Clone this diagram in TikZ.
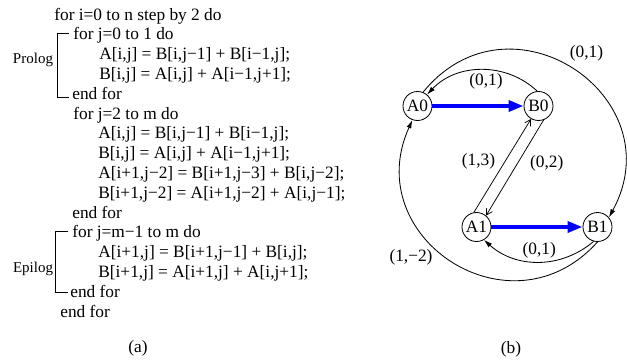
\documentclass[tikz,border=0pt]{standalone}
\usepackage{fontspec}
\setmainfont{Liberation Serif}
\usetikzlibrary{arrows.meta}

\definecolor{loopFlow}{RGB}{0,0,255}
\definecolor{loopInk}{RGB}{0,0,0}

\begin{document}
\begin{tikzpicture}[x=.6pt,y=.6pt,
      codeline/.style={font=\fontsize{10.4}{12.4}\selectfont,
        text=loopInk, anchor=base west, inner sep=0pt},
      phase/.style={font=\fontsize{9}{10.8}\selectfont,
        text=loopInk, inner sep=0pt},
      vertex/.style={circle, draw=loopInk, line width=.5pt,
        minimum size=17.4pt, inner sep=.5pt,
        font=\fontsize{10.4}{12.4}\selectfont},
      weight/.style={font=\fontsize{10.4}{12.4}\selectfont,
        text=loopInk, inner sep=0pt},
      bracket/.style={draw=loopInk, line width=.5pt},
      dep/.style={draw=loopInk, line width=.5pt,
        -{Latex[length=5pt,width=3pt]}},
      dist/.style={draw=loopInk, line width=.45pt,
        -{Straight Barb[length=3.5pt,width=4pt]}},
      flow/.style={draw=loopFlow, line width=2.4pt,
        -{Triangle[length=9pt,width=6.5pt]}}]
  \useasboundingbox (0,0) rectangle (627,360);

  % (a) the loop
  \node[codeline] (c1) at (54,340) {for i=0 to n step by 2 do};
  \node[codeline] (c2) at (73,320.2) {for j=0 to 1 do};
  \node[codeline] (c3) at (99,300.4) {A[i,j] = B[i,j−1] + B[i−1,j];};
  \node[codeline] (c4) at (99,280.6) {B[i,j] = A[i,j] + A[i−1,j+1];};
  \node[codeline] (c5) at (72,260.8) {end for};
  \node[codeline] (c6) at (73,241) {for j=2 to m do};
  \node[codeline] (c7) at (98,221.2) {A[i,j] = B[i,j−1] + B[i−1,j];};
  \node[codeline] (c8) at (98,201.4) {B[i,j] = A[i,j] + A[i−1,j+1];};
  \node[codeline] (c9) at (98,181.6) {A[i+1,j−2] = B[i+1,j−3] + B[i,j−2];};
  \node[codeline] (c10) at (98,161.8) {B[i+1,j−2] = A[i+1,j−2] + A[i,j−1];};
  \node[codeline] (c11) at (72,142) {end for};
  \node[codeline] (c12) at (72,122.2) {for j=m−1 to m do};
  \node[codeline] (c13) at (98,102.4) {A[i+1,j] = B[i+1,j−1] + B[i,j];};
  \node[codeline] (c14) at (98,82.6) {B[i+1,j] = A[i+1,j] + A[i,j+1];};
  \node[codeline] (c15) at (70,62.8) {end for};
  \node[codeline] (c16) at (60,43) {end for};

  \node[phase] (prolog) at (33,300) {Prolog};
  \draw[bracket] (69,327) -- (57,327) -- (57,263) -- (69,263);
  \node[phase] (epilog) at (33,91) {Epilog};
  \draw[bracket] (68,129) -- (55,129) -- (55,68) -- (68,68);

  \node[weight] (capa) at (138,12) {(a)};

  % (b) the dependence graph
  \node[vertex] (A0) at (417.5,254) {A0};
  \node[vertex] (B0) at (538.5,254) {B0};
  \node[vertex] (A1) at (476.5,133) {A1};
  \node[vertex] (B1) at (597.5,133) {B1};

  \draw[flow] (A0) -- (B0);
  \draw[flow] (A1) -- (B1);
  \draw[dist] (A1.100) -- (B0.240);
  \draw[dist] (B0.290) -- (A1.50);
  \draw[dep] (B0.95) to[bend right=45] (A0.50);
  \draw[dep] (B1.-105) to[bend left=41] (A1.-60);
  \draw[dep] (A0.68) to[out=50.9, in=61.4, distance=82.5pt] (B1.40);
  \draw[dep] (B1.-90) to[out=-131.8, in=-114.5, distance=77.7pt] (A0.-110);

  \node[weight] (w1) at (586.5,307) {(0,1)};
  \node[weight] (w2) at (486,279) {(0,1)};
  \node[weight] (w3) at (478.5,199) {(1,3)};
  \node[weight] (w4) at (546.7,197) {(0,2)};
  \node[weight] (w5) at (539.3,110) {(0,1)};
  \node[weight] (w6) at (411,102.7) {(1,−2)};

  \node[weight] (capb) at (511,11) {(b)};
\end{tikzpicture}
\end{document}
